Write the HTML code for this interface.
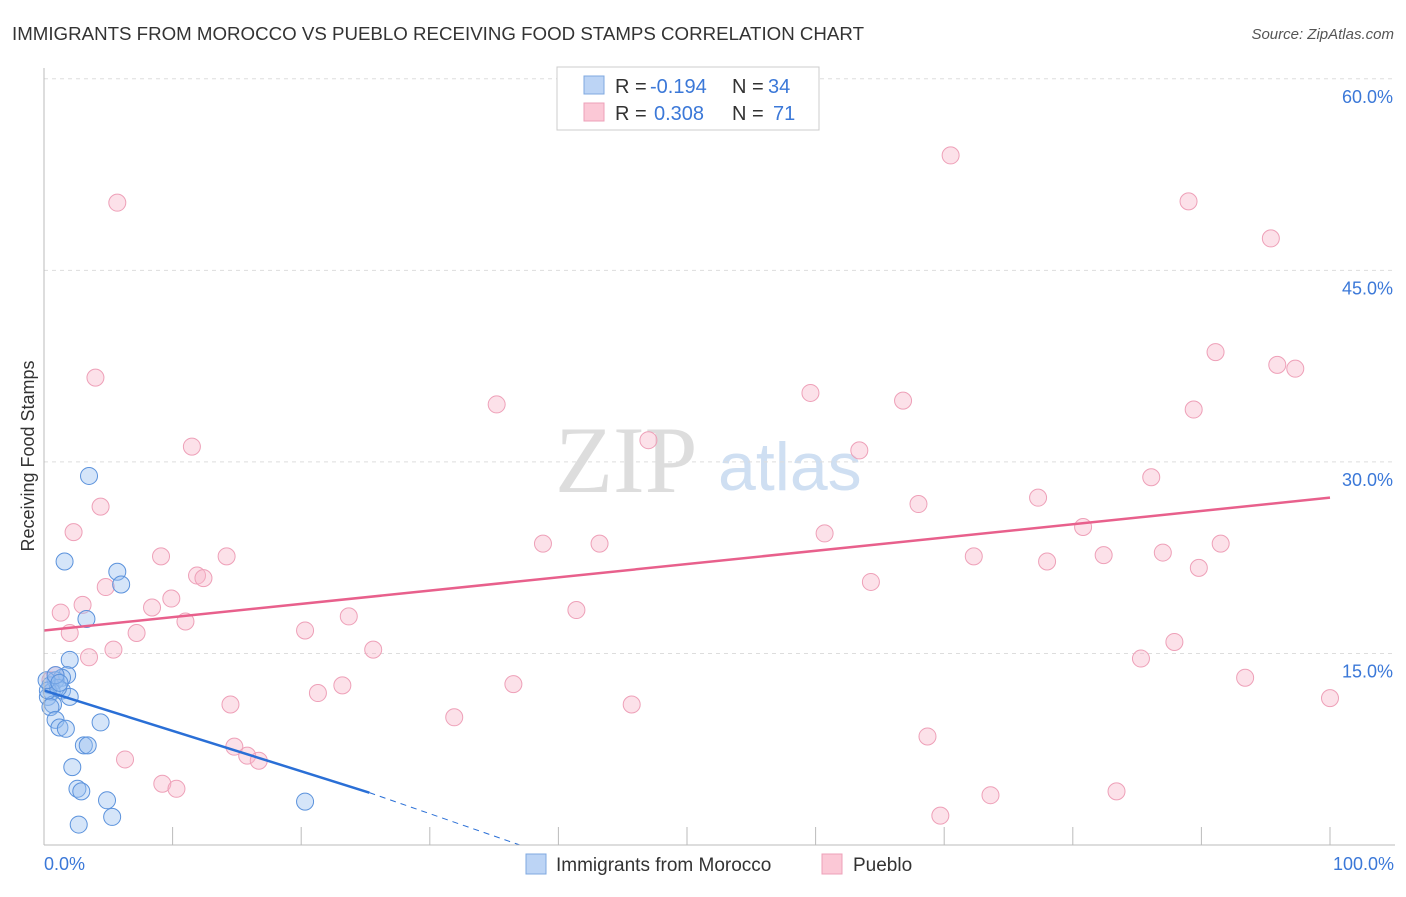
<!DOCTYPE html>
<html><head><meta charset="utf-8"><style>
body{margin:0;background:#fff;font-family:"Liberation Sans",sans-serif;}
</style></head><body>
<svg id="c" width="1406" height="892" xmlns="http://www.w3.org/2000/svg" font-family="Liberation Sans, sans-serif">
<text x="12" y="40" font-size="18" fill="#333" textLength="852" lengthAdjust="spacingAndGlyphs">IMMIGRANTS FROM MOROCCO VS PUEBLO RECEIVING FOOD STAMPS CORRELATION CHART</text>
<text x="1394" y="39" font-size="15" fill="#555" font-style="italic" text-anchor="end">Source: ZipAtlas.com</text>
<text x="34" y="456" font-size="18" fill="#333" text-anchor="middle" transform="rotate(-90 34 456)">Receiving Food Stamps</text>
<text x="555" y="492" font-size="95" fill="#ddd" font-family="Liberation Serif, serif">ZIP</text>
<text x="718" y="490" font-size="68" fill="#cfdff2">atlas</text>
<g id="grid"></g><g id="ticks"></g><g id="pts"></g><g id="lines"></g>
<line x1="44" y1="68" x2="44" y2="845" stroke="#bbb"/>
<line x1="44" y1="845" x2="1395" y2="845" stroke="#bbb"/>
<text x="44" y="870" font-size="18" fill="#3b78d8">0.0%</text>
<text x="1394" y="870" font-size="18" fill="#3b78d8" text-anchor="end">100.0%</text>
<g font-size="20">
<rect x="557" y="67" width="262" height="63" fill="#fff" stroke="#ccc"/>
<rect x="584" y="76" width="20" height="18" fill="#bcd4f5" stroke="#7fa8e0"/>
<rect x="584" y="103" width="20" height="18" fill="#fbc8d6" stroke="#eea0b8"/>
<text x="615" y="93" fill="#333">R =</text>
<text x="650" y="93" fill="#3b78d8">-0.194</text>
<text x="732" y="93" fill="#333">N =</text>
<text x="768" y="93" fill="#3b78d8">34</text>
<text x="615" y="120" fill="#333">R =</text>
<text x="654" y="120" fill="#3b78d8">0.308</text>
<text x="732" y="120" fill="#333">N =</text>
<text x="773" y="120" fill="#3b78d8">71</text>
</g>
<g>
<rect x="526" y="854" width="20" height="20" fill="#bcd4f5" stroke="#7fa8e0"/>
<text x="556" y="871" font-size="19" fill="#333">Immigrants from Morocco</text></g>
<g>
<rect x="822" y="854" width="20" height="20" fill="#fbc8d6" stroke="#eea0b8"/>
<text x="853" y="871" font-size="19" fill="#333">Pueblo</text></g>
</svg>
<script>
const yTicks=[15,30,45,60];
const yTickLabels=["15.0%","30.0%","45.0%","60.0%"];
const xTicks=[10,20,30,40,50,60,70,80,90,100];
const blueX=[3.5,1.6,5.7,6.0,3.3,2.0,1.8,1.4,0.9,0.5,1.4,0.6,2.0,0.3,0.7,0.5,0.9,1.2,1.7,4.4,3.1,3.4,2.2,2.6,2.9,4.9,5.3,2.7,20.3,0.3,1.1,0.2,0.9,1.2];
const blueY=[28.9,22.2,21.4,20.4,17.7,14.5,13.3,13.1,12.9,12.5,12.1,12.0,11.6,11.6,11.0,10.8,9.8,9.2,9.1,9.6,7.8,7.8,6.1,4.4,4.2,3.5,2.2,1.6,3.4,12.1,12.3,12.9,13.3,12.7];
const pinkX=[70.5,5.7,89.0,95.4,91.1,95.9,97.3,4.0,59.6,66.8,35.2,89.4,11.5,47.0,63.4,86.1,77.3,4.4,68.0,2.3,60.7,80.8,38.8,43.2,91.5,9.1,14.2,72.3,82.4,87.0,78.0,89.8,11.9,12.4,64.3,4.8,9.9,8.4,3.0,1.3,41.4,23.7,11.0,7.2,2.0,20.3,87.9,5.4,3.5,25.6,85.3,0.9,0.5,36.5,23.2,93.4,21.3,100,14.5,45.7,31.9,68.7,14.8,15.8,16.7,6.3,9.2,10.3,73.6,83.4,69.7];
const pinkY=[54.0,50.3,50.4,47.5,38.6,37.6,37.3,36.6,35.4,34.8,34.5,34.1,31.2,31.7,30.9,28.8,27.2,26.5,26.7,24.5,24.4,24.9,23.6,23.6,23.6,22.6,22.6,22.6,22.7,22.9,22.2,21.7,21.1,20.9,20.6,20.2,19.3,18.6,18.8,18.2,18.4,17.9,17.5,16.6,16.6,16.8,15.9,15.3,14.7,15.3,14.6,13.3,12.9,12.6,12.5,13.1,11.9,11.5,11.0,11.0,10.0,8.5,7.7,7.0,6.6,6.7,4.8,4.4,3.9,4.2,2.3];
const pinkTrend=[0,16.8,100,27.2];
const blueTrend=[0,12.1,25.3,4.1,37.0,0];
const NS="http://www.w3.org/2000/svg";
const X=v=>44+v*12.86, Y=v=>845-v*12.77;
function mk(t,a,p){const e=document.createElementNS(NS,t);for(const k in a)e.setAttribute(k,a[k]);document.getElementById(p).appendChild(e);return e;}
yTicks.forEach((t,i)=>{
 const g=mk('line',{x1:44,x2:1395,y1:Y(t),y2:Y(t),stroke:'#ddd','stroke-dasharray':'4,4'},'grid');
 
 
 const l=mk('text',{x:1393,y:Y(t)+24,'font-size':18,fill:'#3b78d8','text-anchor':'end'},'grid');
 l.textContent=yTickLabels[i];
 
 
});
xTicks.forEach(t=>{
 const e=mk('line',{x1:X(t),x2:X(t),y1:827,y2:845,stroke:'#bbb'},'ticks');
 
 
});
pinkX.forEach((x,i)=>{
 const c=mk('circle',{cx:X(x),cy:Y(pinkY[i]),r:8.5,fill:'rgba(248,180,200,0.4)',stroke:'#eea0b8','stroke-width':1},'pts');
 
 
});
blueX.forEach((x,i)=>{
 const c=mk('circle',{cx:X(x),cy:Y(blueY[i]),r:8.5,fill:'rgba(150,190,240,0.4)',stroke:'#5b92dc','stroke-width':1},'pts');
 
 
});
let e=mk('line',{x1:X(pinkTrend[0]),y1:Y(pinkTrend[1]),x2:X(pinkTrend[2]),y2:Y(pinkTrend[3]),stroke:'#e8608c','stroke-width':2.5},'lines');


e=mk('line',{x1:X(blueTrend[0]),y1:Y(blueTrend[1]),x2:X(blueTrend[2]),y2:Y(blueTrend[3]),stroke:'#2a6fd6','stroke-width':2.5},'lines');


e=mk('line',{x1:X(blueTrend[2]),y1:Y(blueTrend[3]),x2:X(blueTrend[4]),y2:Y(blueTrend[5]),stroke:'#2a6fd6','stroke-width':1,'stroke-dasharray':'6,5'},'lines');


</script>
</body></html>
